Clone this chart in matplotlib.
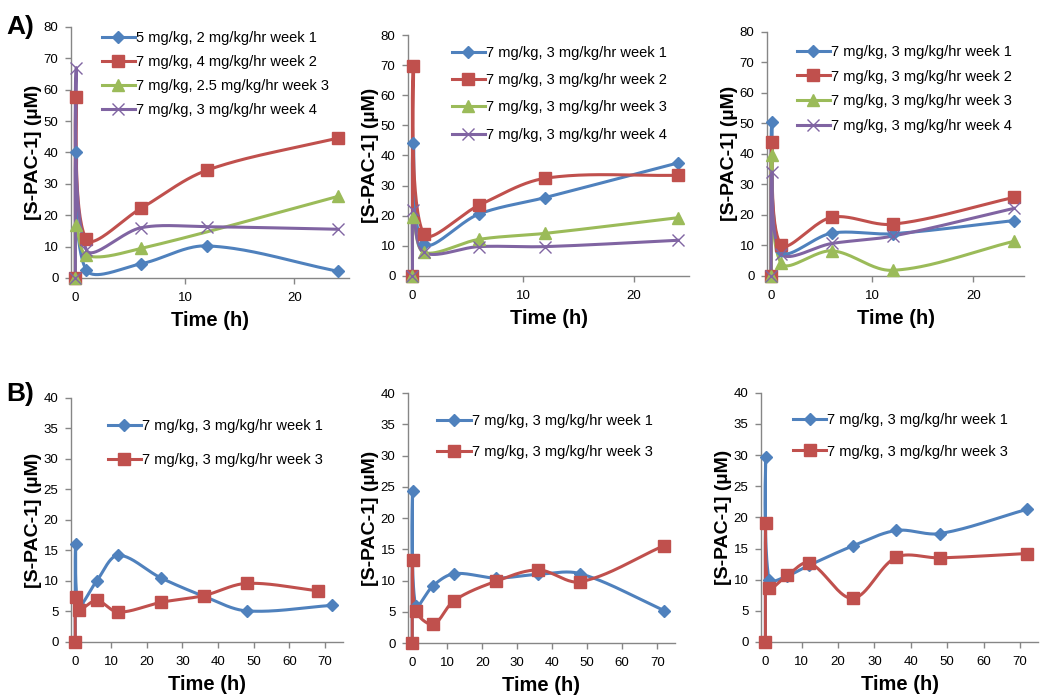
import numpy as np
import matplotlib
matplotlib.use("Agg")
import matplotlib.pyplot as plt
from matplotlib.lines import Line2D

plt.rcParams['font.family'] = ['Liberation Sans', 'DejaVu Sans']

# ---------------- data ----------------
t_a = [0, 0.083, 1, 6, 12, 24]
t_a_green1 = [0, 0.083, 1, 6, 24]
t_b = [0, 0.083, 1, 6, 12, 24, 36, 48, 72]
t_b_red1 = [0, 0.083, 1, 6, 12, 24, 36, 48, 68]

labels_a1 = ["5 mg/kg, 2 mg/kg/hr week 1", "7 mg/kg, 4 mg/kg/hr week 2",
             "7 mg/kg, 2.5 mg/kg/hr week 3", "7 mg/kg, 3 mg/kg/hr week 4"]
labels_a = ["7 mg/kg, 3 mg/kg/hr week 1", "7 mg/kg, 3 mg/kg/hr week 2",
            "7 mg/kg, 3 mg/kg/hr week 3", "7 mg/kg, 3 mg/kg/hr week 4"]
labels_b = ["7 mg/kg, 3 mg/kg/hr week 1", "7 mg/kg, 3 mg/kg/hr week 3"]

a1_w1 = [0, 40, 2.5, 4.5, 10.2, 2.1]
a1_w2 = [0, 57.5, 12.3, 22.2, 34.3, 44.6]
a1_w3 = [0, 17, 7.2, 9.4, 26]
a1_w4 = [0, 67, 9, 16, 16.3, 15.5]

a2_w1 = [0, 44, 10.5, 20.5, 26, 37.5]
a2_w2 = [0, 69.6, 13.9, 23.4, 32.4, 33.4]
a2_w3 = [0, 19.6, 7.8, 12.1, 14.1, 19.3]
a2_w4 = [0, 22, 7.8, 9.7, 9.7, 11.8]

a3_w1 = [0, 50.3, 8, 14, 13.8, 18.1]
a3_w2 = [0, 44, 10.1, 19.2, 16.9, 25.7]
a3_w3 = [0, 39.5, 4.1, 8.2, 1.8, 11.3]
a3_w4 = [0, 34, 7.2, 10.6, 13, 22.1]

b1_w1 = [0, 16, 6, 10, 14.2, 10.5, 7.5, 5.1, 6.0]
b1_w3 = [0, 7.3, 5.3, 6.8, 4.9, 6.5, 7.6, 9.6, 8.4]

b2_w1 = [0, 24.4, 5.9, 9.2, 11.1, 10.4, 11.0, 11.1, 5.2]
b2_w3 = [0, 13.3, 5.2, 3.0, 6.8, 9.9, 11.7, 9.8, 15.6]

b3_w1 = [0, 29.7, 10.0, 10.6, 12.3, 15.4, 17.9, 17.4, 21.3]
b3_w3 = [0, 19.1, 8.7, 10.7, 12.7, 7.0, 13.6, 13.5, 14.2]

# ---------------- style ----------------
BLUE, RED, GREEN, PURPLE = "#4F81BD", "#C0504D", "#9BBB59", "#8064A2"
AXC = "#868686"
styles = [
    dict(color=BLUE, marker="D", ms=6.3),
    dict(color=RED, marker="s", ms=8.5),
    dict(color=GREEN, marker="^", ms=9),
    dict(color=PURPLE, marker="x", ms=8.5, mew=1.0),
]


def smooth_curve(ax, x, y, n=40):
    """Excel-like smoothed line, computed in display space."""
    pts = ax.transData.transform(np.column_stack([x, y]))
    out = [pts[0]]
    m = len(pts)
    k = 1.0 / 3.0
    for i in range(m - 1):
        p0 = pts[i - 1] if i > 0 else pts[i]
        p1 = pts[i]
        p2 = pts[i + 1]
        p3 = pts[i + 2] if i + 2 < m else pts[i + 1]
        d01 = np.hypot(*(p1 - p0))
        d12 = np.hypot(*(p2 - p1))
        d23 = np.hypot(*(p3 - p2))
        f1 = d12 / (d01 + d12) if (d01 + d12) > 0 else 0
        f2 = d12 / (d12 + d23) if (d12 + d23) > 0 else 0
        c1 = p1 + (p2 - p0) * f1 * k
        c2 = p2 - (p3 - p1) * f2 * k
        s = np.linspace(0, 1, n)[1:, None]
        seg = ((1 - s) ** 3) * p1 + 3 * ((1 - s) ** 2) * s * c1 + 3 * (1 - s) * s ** 2 * c2 + s ** 3 * p2
        out.extend(seg)
    out = np.array(out)
    return ax.transData.inverted().transform(out)


def setup(ax, xlim, ylim, yticks, xticks):
    ax.set_xlim(*xlim)
    ax.set_ylim(*ylim)
    ax.set_yticks(yticks)
    ax.set_xticks(xticks)
    for s in ["top", "right"]:
        ax.spines[s].set_visible(False)
    for s in ["left", "bottom"]:
        ax.spines[s].set_color(AXC)
        ax.spines[s].set_linewidth(1.0)
    ax.tick_params(axis="both", colors=AXC, labelcolor="black", labelsize=9.5, length=4, width=1.0)
    ax.tick_params(axis="x", pad=6)
    ax.tick_params(axis="y", pad=5)
    ax.set_xlabel("Time (h)", fontsize=14.5, fontweight="bold", labelpad=5)
    ax.set_ylabel("[S-PAC-1] (\u00b5M)", fontsize=14, fontweight="bold", labelpad=1.5)
    ax.patch.set_alpha(0)


def draw(ax, series, labels, leg_anchor, spacing):
    handles = []
    for (x, y), st, lab in zip(series, styles, labels):
        cx = smooth_curve(ax, x, y)
        ax.plot(cx[:, 0], cx[:, 1], color=st["color"], lw=2.2, clip_on=False, zorder=3)
        ax.plot(x, y, linestyle="none", marker=st["marker"], ms=st["ms"], color=st["color"],
                mec=st["color"], mew=st.get("mew", 1.0), clip_on=False, zorder=4)
        handles.append(Line2D([], [], color=st["color"], lw=2.2, marker=st["marker"],
                              ms=st["ms"], mew=st.get("mew", 1.0)))
    ax.legend(handles, labels, loc="upper left", bbox_to_anchor=leg_anchor, frameon=False,
              fontsize=10.5, handlelength=2.3, handletextpad=0.05, labelspacing=spacing,
              borderpad=0, borderaxespad=0, markerscale=1.0)


fig = plt.figure(figsize=(10.5, 7), dpi=100)

pos = {
    "a1": [0.0676, 0.603, 0.265, 0.3586],
    "a2": [0.3886, 0.606, 0.2676, 0.344],
    "a3": [0.7305, 0.606, 0.2448, 0.3486],
    "b1": [0.0676, 0.0829, 0.259, 0.3486],
    "b2": [0.3886, 0.0814, 0.254, 0.357],
    "b3": [0.7248, 0.0829, 0.2638, 0.356],
}

xa, xb = (-0.4, 25), (-1.2, 75)
ya_t, yb_t = np.arange(0, 81, 10), np.arange(0, 41, 5)

ax = fig.add_axes(pos["a1"]); setup(ax, xa, (0, 80), ya_t, [0, 10, 20])
draw(ax, [(t_a, a1_w1), (t_a, a1_w2), (t_a_green1, a1_w3), (t_a, a1_w4)], labels_a1, (0.11, 0.985), 0.7)

ax = fig.add_axes(pos["a2"]); setup(ax, xa, (0, 80), ya_t, [0, 10, 20])
draw(ax, [(t_a, a2_w1), (t_a, a2_w2), (t_a, a2_w3), (t_a, a2_w4)], labels_a, (0.155, 0.955), 0.91)

ax = fig.add_axes(pos["a3"]); setup(ax, xa, (0, 80), ya_t, [0, 10, 20])
draw(ax, [(t_a, a3_w1), (t_a, a3_w2), (t_a, a3_w3), (t_a, a3_w4)], labels_a, (0.115, 0.947), 0.74)

ax = fig.add_axes(pos["b1"]); setup(ax, xb, (0, 40), yb_t, np.arange(0, 71, 10))
draw(ax, [(t_b, b1_w1), (t_b_red1, b1_w3)], labels_b, (0.135, 0.915), 1.39)

ax = fig.add_axes(pos["b2"]); setup(ax, xb, (0, 40), yb_t, np.arange(0, 71, 10))
draw(ax, [(t_b, b2_w1), (t_b, b2_w3)], labels_b, (0.11, 0.918), 1.19)

ax = fig.add_axes(pos["b3"]); setup(ax, xb, (0, 40), yb_t, np.arange(0, 71, 10))
draw(ax, [(t_b, b3_w1), (t_b, b3_w3)], labels_b, (0.115, 0.918), 1.19)

fig.text(0.006, 1 - 34 / 700, "A)", fontsize=19, fontweight="bold")
fig.text(0.006, 1 - 401 / 700, "B)", fontsize=19, fontweight="bold")

fig.savefig("out.png", dpi=100)
